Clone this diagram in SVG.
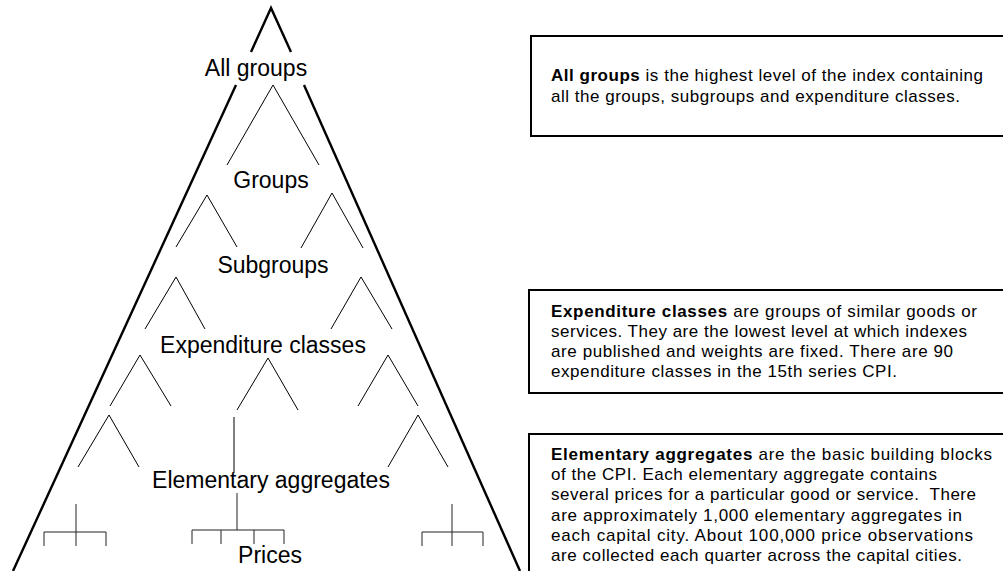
<svg xmlns="http://www.w3.org/2000/svg" width="1003" height="571" viewBox="0 0 1003 571">
  <style>
    .bg { fill: #ffffff; }
    .outline { fill: none; stroke: #000; stroke-width: 2.4; stroke-linecap: butt; stroke-linejoin: miter; }
    .edge { fill: none; stroke: #000; stroke-width: 1; }
    .comb { fill: none; stroke: #222; stroke-width: 1; }
    .lvl { font-family: "Liberation Sans", Arial, sans-serif; font-size: 23px; fill: #000; text-anchor: middle; }
    .box { fill: #fff; stroke: #000; stroke-width: 2; }
    .desc { font-family: "Liberation Sans", Arial, sans-serif; font-size: 17px; fill: #000; }
    .b { font-weight: bold; }
  </style>
  <rect class="bg" x="0" y="0" width="1003" height="571"/>

  <g id="pyramid-outline">
    <polyline class="outline" points="251,52 271,8 291,52"/>
    <line class="outline" x1="236" y1="85" x2="13" y2="571"/>
    <line class="outline" x1="304" y1="85" x2="520" y2="571"/>
  </g>

  <g id="connectors">
    <polyline class="edge" points="227,165 273,85 319,165"/>
    <polyline class="edge" points="176,247 207,195 237,247"/>
    <polyline class="edge" points="301,248 332,193 363,248"/>
    <polyline class="edge" points="145,329 176,277 205,329"/>
    <polyline class="edge" points="331,329 361,277 392,329"/>
    <polyline class="edge" points="110,406 140,355 171,406"/>
    <polyline class="edge" points="237,410 268,358 298,410"/>
    <polyline class="edge" points="358,406 388,355 418,406"/>
    <polyline class="edge" points="78,467 109,415 139,467"/>
    <polyline class="edge" points="388,467 418,415 448,467"/>
    <line class="edge" x1="234" y1="417" x2="234" y2="473"/>
    <line class="comb" x1="76" y1="504" x2="76" y2="546"/>
    <polyline class="comb" points="44,546 44,532 106,532 106,546"/>
    <line class="comb" x1="237" y1="493" x2="237" y2="530"/>
    <polyline class="comb" points="192,544 192,530 284,530 284,544"/>
    <line class="comb" x1="221" y1="530" x2="221" y2="544"/>
    <line class="comb" x1="254" y1="530" x2="254" y2="544"/>
    <line class="comb" x1="452" y1="504" x2="452" y2="546"/>
    <polyline class="comb" points="422,546 422,532 483,532 483,546"/>
  </g>

  <g id="node-all-groups"><text class="lvl" x="256" y="76">All groups</text></g>
  <g id="node-groups"><text class="lvl" x="271" y="188">Groups</text></g>
  <g id="node-subgroups"><text class="lvl" x="273" y="273">Subgroups</text></g>
  <g id="node-expenditure-classes"><text class="lvl" x="263" y="353">Expenditure classes</text></g>
  <g id="node-elementary-aggregates"><text class="lvl" x="271" y="488">Elementary aggregates</text></g>
  <g id="node-prices"><text class="lvl" x="270" y="563">Prices</text></g>

  <g id="note-all-groups">
    <rect class="box" x="531" y="36" width="480" height="100"/>
    <text class="desc" x="551" y="81" textLength="432" lengthAdjust="spacing"><tspan class="b">All groups</tspan> is the highest level of the index containing</text>
    <text class="desc" x="551" y="102" textLength="409" lengthAdjust="spacing">all the groups, subgroups and expenditure classes.</text>
  </g>

  <g id="note-expenditure-classes">
    <rect class="box" x="529" y="290" width="480" height="103"/>
    <text class="desc" x="551" y="317" textLength="426" lengthAdjust="spacing"><tspan class="b">Expenditure classes</tspan> are groups of similar goods or</text>
    <text class="desc" x="551" y="337" textLength="416" lengthAdjust="spacing">services. They are the lowest level at which indexes</text>
    <text class="desc" x="551" y="357" textLength="402" lengthAdjust="spacing">are published and weights are fixed. There are 90</text>
    <text class="desc" x="551" y="377" textLength="346" lengthAdjust="spacing">expenditure classes in the 15th series CPI.</text>
  </g>

  <g id="note-elementary-aggregates">
    <rect class="box" x="529" y="434" width="480" height="150"/>
    <text class="desc" x="551" y="460" textLength="441" lengthAdjust="spacing"><tspan class="b">Elementary aggregates</tspan> are the basic building blocks</text>
    <text class="desc" x="551" y="480" textLength="386" lengthAdjust="spacing">of the CPI. Each elementary aggregate contains</text>
    <text class="desc" x="551" y="500" textLength="425" lengthAdjust="spacing" xml:space="preserve">several prices for a particular good or service.  There</text>
    <text class="desc" x="551" y="521" textLength="411" lengthAdjust="spacing">are approximately 1,000 elementary aggregates in</text>
    <text class="desc" x="551" y="541" textLength="422" lengthAdjust="spacing">each capital city. About 100,000 price observations</text>
    <text class="desc" x="551" y="561" textLength="411" lengthAdjust="spacing">are collected each quarter across the capital cities.</text>
  </g>
</svg>
